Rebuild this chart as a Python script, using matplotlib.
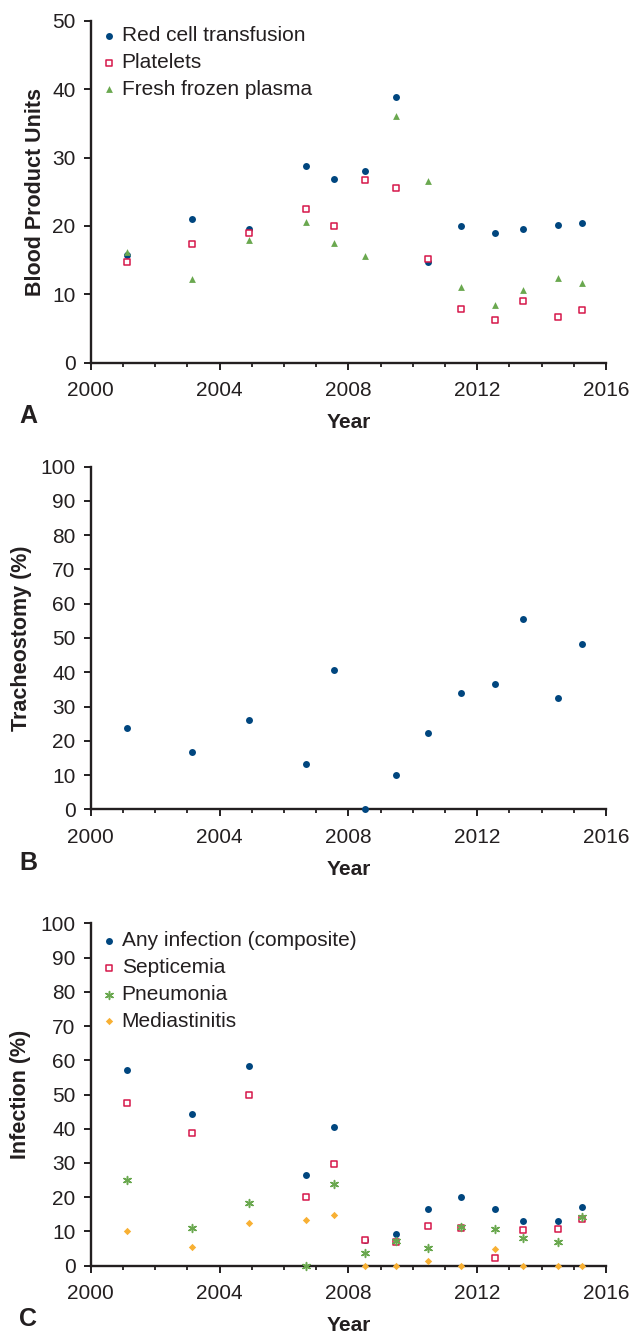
import matplotlib
matplotlib.use("Agg")
import matplotlib.pyplot as plt
from matplotlib.ticker import MultipleLocator

plt.rcParams['font.family'] = ['Liberation Sans', 'DejaVu Sans']

years = [2001.13, 2003.15, 2004.93, 2006.67, 2007.54, 2008.53, 2009.48,
         2010.47, 2011.49, 2012.56, 2013.42, 2014.52, 2015.26]

red_cell = [15.7, 20.95, 19.5, 28.8, 26.9, 28.07, 38.8, 14.7, 19.93, 18.9, 19.6, 20.2, 20.4]
platelets = [14.67, 17.35, 18.9, 22.47, 19.93, 26.7, 25.5, 15.1, 7.9, 6.24, 9.06, 6.63, 7.65]
ffp = [16.2, 12.2, 18.0, 20.5, 17.5, 15.6, 36.0, 26.6, 11.0, 8.5, 10.6, 12.4, 11.7]

trach = [23.7, 16.6, 26.1, 13.3, 40.7, 0.0, 10.0, 22.4, 34.0, 36.5, 55.4, 32.6, 48.2]

any_inf = [57.1, 44.3, 58.2, 26.6, 40.6, 7.4, 9.4, 16.65, 20.0, 16.65, 13.05, 13.05, 17.2]
septic = [47.5, 38.75, 49.85, 20.0, 29.6, 7.4, 7.0, 11.5, 11.1, 2.3, 10.4, 10.8, 13.7]
pneum = [24.9, 11.0, 18.2, 0.0, 24.0, 3.6, 7.2, 5.2, 11.3, 10.7, 8.0, 6.8, 14.1]
medias = [10.0, 5.45, 12.5, 13.3, 14.7, 0.0, 0.0, 1.3, 0.0, 4.8, 0.0, 0.0, 0.0]

NAVY = '#00467f'
RED = '#d6174a'
GREEN = '#6aa84f'
ORANGE = '#f8b033'
INK = '#231f20'

W, H = 633, 1334
AX_LEFT, AX_RIGHT = 90.7, 606.0
fig = plt.figure(figsize=(W / 100, H / 100), dpi=100)

def make_ax(top_px, bot_px):
    left = AX_LEFT / W
    width = (AX_RIGHT - AX_LEFT) / W
    bottom = 1 - bot_px / H
    height = (bot_px - top_px) / H
    return fig.add_axes([left, bottom, width, height])

def style(ax, ymax, ystep, ylabel, panel, ylabel_x):
    ax.set_xlim(2000, 2016)
    ax.set_ylim(0, ymax)
    ax.xaxis.set_major_locator(MultipleLocator(4))
    ax.xaxis.set_minor_locator(MultipleLocator(1))
    ax.yaxis.set_major_locator(MultipleLocator(ystep))
    for s in ['top', 'right']:
        ax.spines[s].set_visible(False)
    for s in ['left', 'bottom']:
        ax.spines[s].set_linewidth(1.7)
        ax.spines[s].set_color(INK)
    ax.tick_params(axis='both', which='major', direction='out', length=5, width=1.4,
                   color=INK, labelsize=15, labelcolor=INK, pad=6)
    ax.tick_params(axis='x', which='minor', direction='out', length=2.6, width=1.3, color=INK)
    ax.tick_params(axis='x', which='major', length=5.3, pad=8)
    ax.set_xlabel('Year', fontsize=15, fontweight='bold', color=INK, labelpad=9.5)
    ax.set_ylabel(ylabel, fontsize=15.5, fontweight='bold', color=INK)
    ax.yaxis.set_label_coords(ylabel_x, 0.5)
    ax.text(-0.139, -0.157, panel, transform=ax.transAxes, fontsize=18, fontweight='bold',
            color=INK, ha='left', va='center')

LEG = dict(loc='upper left', frameon=False, fontsize=15,
           handletextpad=0.0, labelspacing=0.375, borderaxespad=0.17, borderpad=0.1,
           handlelength=1.22, markerscale=1.0, labelcolor=INK)

# Panel A
axA = make_ax(20.7, 362.7)
axA.scatter(years, red_cell, s=25, marker='o', color=NAVY, linewidths=0, label='Red cell transfusion', zorder=3, clip_on=False)
axA.scatter(years, platelets, s=24, marker='s', facecolors='white', edgecolors=RED, linewidths=1.1, label='Platelets', zorder=3, clip_on=False)
axA.scatter(years, ffp, s=24, marker='^', color=GREEN, linewidths=0, label='Fresh frozen plasma', zorder=3, clip_on=False)
style(axA, 50, 10, 'Blood Product Units', 'A', -0.0867)
axA.legend(bbox_to_anchor=(0.0, 1.0), **LEG)

# Panel B
axB = make_ax(466.7, 809.3)
axB.scatter(years, trach, s=25, marker='o', color=NAVY, linewidths=0, zorder=3, clip_on=False)
style(axB, 100, 10, 'Tracheostomy (%)', 'B', -0.113)

# Panel C
axC = make_ax(923.3, 1265.7)
axC.scatter(years, any_inf, s=25, marker='o', color=NAVY, linewidths=0, label='Any infection (composite)', zorder=3, clip_on=False)
axC.scatter(years, septic, s=24, marker='s', facecolors='white', edgecolors=RED, linewidths=1.1, label='Septicemia', zorder=3, clip_on=False)
axC.scatter(years, pneum, s=32, marker=(6, 2, 0), color=GREEN, linewidths=1.1, label='Pneumonia', zorder=3, clip_on=False)
axC.scatter(years, medias, s=14, marker='D', color=ORANGE, linewidths=0, label='Mediastinitis', zorder=3, clip_on=False)
style(axC, 100, 10, 'Infection (%)', 'C', -0.115)
axC.legend(bbox_to_anchor=(0.0, 0.9927), **LEG)

fig.savefig('out.png', dpi=100)
